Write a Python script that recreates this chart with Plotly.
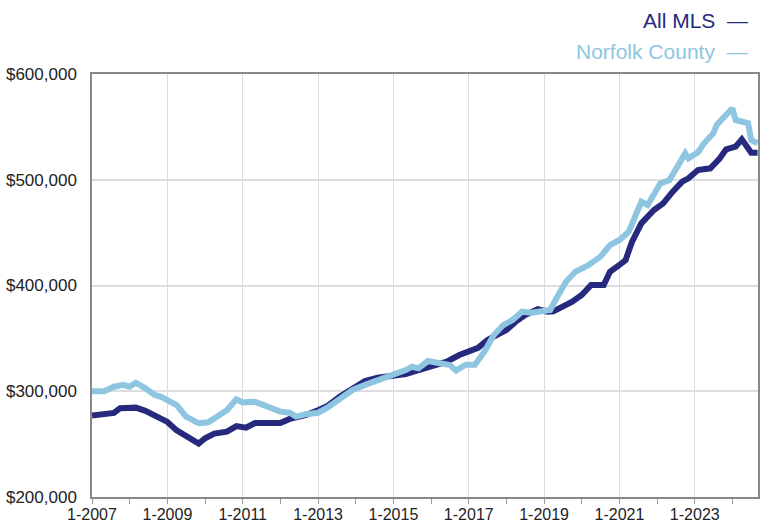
#!/usr/bin/env python3
"""Median sales price, All MLS vs Norfolk County, rolling monthly."""

import numpy as np
import plotly.graph_objects as go

MLS_DATES = [
    "2007-01", "2007-04", "2007-08", "2007-10", "2008-01", "2008-03", "2008-06",
    "2008-09", "2009-01", "2009-04", "2009-07", "2009-09", "2009-11", "2010-01",
    "2010-04", "2010-08", "2010-11", "2011-02", "2011-05", "2011-09", "2012-01",
    "2012-04", "2012-09", "2013-01", "2013-04", "2013-08", "2013-12", "2014-04",
    "2014-08", "2015-01", "2015-05", "2015-09", "2016-01", "2016-06", "2016-10",
    "2017-02", "2017-04", "2017-07", "2017-10", "2018-01", "2018-04", "2018-07",
    "2018-11", "2019-02", "2019-04", "2019-07", "2019-10", "2020-01", "2020-04",
    "2020-08", "2020-10", "2021-01", "2021-03", "2021-05", "2021-08", "2021-12",
    "2022-03", "2022-06", "2022-09", "2022-11", "2023-02", "2023-06", "2023-09",
    "2023-11", "2024-02", "2024-04", "2024-05", "2024-07", "2024-09",
]
MLS_K = [
    277, 278, 279.5, 284, 285, 284.5, 281.5,
    277.5, 271, 263, 257, 254, 250.5, 255.5,
    260, 261.8, 267, 265.5, 270, 270, 270,
    273.8, 277.5, 282, 286, 295, 302.7, 309.7,
    312.8, 314.4, 316.3, 320, 323.2, 328, 334.3,
    339.7, 341, 348.5, 353.2, 357.9, 365.8, 372.1,
    377.5, 375.2, 375.5, 380, 384.7, 391, 400.5,
    400.5, 413, 419.4, 424, 441, 458.8, 471.4,
    477.7, 488.7, 498.2, 501.4, 509.2, 510.8, 520.3,
    528.8, 531.3, 538.2, 534.5, 525.6, 525.6,
]

NORFOLK_DATES = [
    "2007-01", "2007-05", "2007-08", "2007-11", "2008-01", "2008-03", "2008-06",
    "2008-09", "2008-11", "2009-04", "2009-07", "2009-11", "2010-02", "2010-05",
    "2010-08", "2010-11", "2011-01", "2011-05", "2011-08", "2011-11", "2012-01",
    "2012-04", "2012-06", "2012-09", "2013-01", "2013-04", "2013-08", "2013-12",
    "2014-04", "2014-07", "2014-08", "2015-01", "2015-05", "2015-07", "2015-09",
    "2015-12", "2016-04", "2016-07", "2016-09", "2016-12", "2017-03", "2017-06",
    "2017-09", "2017-12", "2018-03", "2018-06", "2018-09", "2018-12", "2019-03",
    "2019-05", "2019-08", "2019-11", "2020-03", "2020-07", "2020-10", "2021-01",
    "2021-04", "2021-06", "2021-08", "2021-10", "2021-12", "2022-02", "2022-05",
    "2022-07", "2022-10", "2022-11", "2023-02", "2023-04", "2023-07", "2023-08",
    "2023-10", "2024-01", "2024-02", "2024-04", "2024-06", "2024-07", "2024-09",
]
NORFOLK_K = [
    300, 300, 304.3, 306, 304.3, 308, 302.7,
    296.5, 294.8, 287, 276, 269.7, 270.6, 276,
    282, 292.4, 289.5, 290, 286.3, 283.7, 280.7,
    279.7, 276, 278.2, 279.7, 284.5, 292.4, 301.2,
    306, 309, 310.6, 315.4, 320, 323.2, 321.7,
    328.6, 326.4, 324.8, 319.5, 325, 325, 337.4,
    353.2, 362.6, 367.4, 375.2, 374.3, 375.2, 376.8,
    387.9, 403.6, 413, 419, 427.3, 438.3, 443,
    450.9, 465.1, 479.2, 476.1, 485.6, 496.6, 499.8,
    510.8, 525, 520.3, 526, 534.5, 544, 551.8,
    558.1, 567.6, 556.5, 554.9, 553.4, 537.6, 534.5,
]

DARK = "#27297f"
LIGHT = "#8ec6e2"
FONT = "Liberation Sans, Arial, sans-serif"

# plot area in pixels: left 92, right 758, top 74, bottom 497
L, R, T, B = 92, 7, 74, 28
W, H = 765, 525

fig = go.Figure()
fig.add_trace(
    go.Scatter(
        x=MLS_DATES,
        y=np.asarray(MLS_K) * 1000,
        mode="lines",
        line={"color": DARK, "width": 6},
        name="All MLS",
    )
)
fig.add_trace(
    go.Scatter(
        x=NORFOLK_DATES,
        y=np.asarray(NORFOLK_K) * 1000,
        mode="lines",
        line={"color": LIGHT, "width": 6},
        name="Norfolk County",
    )
)

# legend drawn as right-aligned text with a trailing dash
for label, color, ypix in [("All MLS", DARK, 21), ("Norfolk County", LIGHT, 51)]:
    fig.add_annotation(
        text=f"{label}  \u2014",
        x=(750 - L) / (W - L - R),
        y=(H - ypix - B) / (H - T - B),
        xref="paper", yref="paper",
        showarrow=False,
        font={"family": FONT, "size": 21, "color": color},
        xanchor="right", yanchor="middle",
    )

fig.update_layout(
    width=W,
    height=H,
    margin={"l": L, "r": R, "t": T, "b": B},
    paper_bgcolor="#ffffff",
    plot_bgcolor="#ffffff",
    showlegend=False,
    font={"family": FONT, "size": 17, "color": "#222222"},
    xaxis={
        "type": "date",
        "range": ["2007-01-01", "2024-09-05"],
        "tick0": "2007-01-01",
        "dtick": "M24",
        "tickformat": "%-m-%Y",
        "showgrid": True,
        "gridcolor": "#dddddd",
        "gridwidth": 1,
        "ticks": "outside",
        "ticklen": 5,
        "tickcolor": "#999999",
        "minor": {"dtick": "M12", "ticks": "outside", "ticklen": 5,
                  "tickcolor": "#999999", "showgrid": False},
        "showline": True,
        "linecolor": "#888888",
        "linewidth": 1.5,
        "mirror": True,
        "ticklabelstandoff": -3,
        "tickfont": {"size": 16, "color": "#222222"},
        "zeroline": False,
        "automargin": False,
    },
    yaxis={
        "range": [200000, 600000],
        "dtick": 100000,
        "tickformat": "$,.0f",
        "showgrid": True,
        "gridcolor": "#dddddd",
        "gridwidth": 1.5,
        "showline": True,
        "linecolor": "#888888",
        "linewidth": 1.5,
        "mirror": True,
        "ticks": "",
        "ticklabelstandoff": 10,
        "tickfont": {"size": 17, "color": "#222222"},
        "zeroline": False,
        "automargin": False,
    },
)

fig.write_html(
    "out.html",
    config={"displayModeBar": False},
    post_script="document.body.style.margin='0';",
)
